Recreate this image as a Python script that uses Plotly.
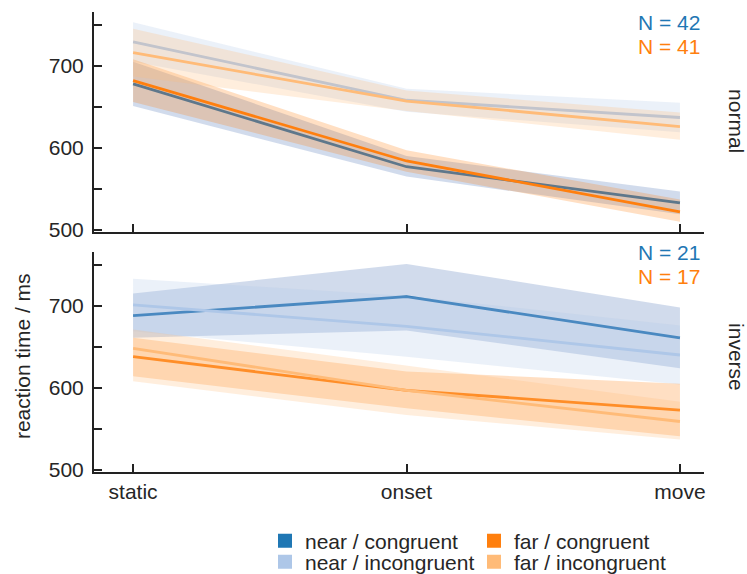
import plotly.graph_objects as go

conditions = ["static", "onset", "move"]
series_names = ["near / congruent", "near / incongruent", "far / congruent", "far / incongruent"]

# normal group
normal_mean = {
    "near / congruent": [678, 577, 533],
    "near / incongruent": [729, 658, 637],
    "far / congruent": [682, 584, 522],
    "far / incongruent": [716, 657, 626],
}
normal_lo = {
    "near / congruent": [651, 565, 519],
    "near / incongruent": [705, 644, 619],
    "far / congruent": [656, 571, 510],
    "far / incongruent": [687, 645, 610],
}
normal_hi = {
    "near / congruent": [705, 590, 547],
    "near / incongruent": [753, 672, 655],
    "far / congruent": [708, 597, 537],
    "far / incongruent": [745, 670, 643],
}
# inverse group
inverse_mean = {
    "near / congruent": [688, 711, 661],
    "near / incongruent": [701, 675, 640],
    "far / congruent": [638, 597, 573],
    "far / incongruent": [648, 597, 559],
}
inverse_lo = {
    "near / congruent": [661, 670, 624],
    "near / incongruent": [669, 638, 604],
    "far / congruent": [614, 575, 541],
    "far / incongruent": [608, 567, 537],
}
inverse_hi = {
    "near / congruent": [715, 751, 698],
    "near / incongruent": [733, 712, 676],
    "far / congruent": [661, 620, 605],
    "far / incongruent": [671, 627, 583],
}
n_labels_normal = ["N = 42", "N = 41"]
n_labels_inverse = ["N = 21", "N = 17"]
y_ticks = [500, 550, 600, 650, 700, 750]
y_ticktext = ["500", "", "600", "", "700", ""]

line_colors = {
    "near / congruent": "#1f77b4",
    "near / incongruent": "#aec7e8",
    "far / congruent": "#ff7f0e",
    "far / incongruent": "#ffbb78",
}
band_colors = {
    "near / congruent": "rgba(70,110,180,0.25)",
    "near / incongruent": "rgba(174,199,232,0.25)",
    "far / congruent": "rgba(255,127,14,0.25)",
    "far / incongruent": "rgba(255,187,120,0.25)",
}

FONT = "Liberation Sans, Arial, sans-serif"
TXT = "#262626"
xs = list(range(len(conditions)))

fig = go.Figure()

def add_panel(mean, lo, hi, xa, ya):
    for name in series_names:
        fig.add_trace(go.Scatter(
            x=xs, y=mean[name], mode="lines", xaxis=xa, yaxis=ya,
            line=dict(color=line_colors[name], width=2.8), showlegend=False,
            hoverinfo="skip"))
        fig.add_trace(go.Scatter(
            x=xs + xs[::-1], y=hi[name] + lo[name][::-1], mode="lines",
            fill="toself", fillcolor=band_colors[name], line=dict(width=0),
            xaxis=xa, yaxis=ya, showlegend=False, hoverinfo="skip"))

add_panel(normal_mean, normal_lo, normal_hi, "x", "y")
add_panel(inverse_mean, inverse_lo, inverse_hi, "x2", "y2")

# legend entries: one legend per cell of the 2x2 legend grid
legend_of = {
    "near / congruent": "legend", "far / congruent": "legend2",
    "near / incongruent": "legend3", "far / incongruent": "legend4",
}
for name in series_names:
    fig.add_trace(go.Scatter(
        x=[None], y=[None], mode="markers", name=name,
        marker=dict(symbol="square", size=14, color=line_colors[name]),
        legend=legend_of[name], xaxis="x2", yaxis="y2"))

axis_common = dict(
    showline=True, linecolor="#222222", linewidth=2,
    ticks="inside", ticklen=8, tickwidth=2, tickcolor="#222222",
    showgrid=False, zeroline=False, automargin=False,
    tickfont=dict(family=FONT, size=21, color=TXT),
)
xr = [-0.143, 2.088]
yr = [497.5, 765.5]

def leg(xp, yc):
    return dict(x=xp, y=yc, xref="paper", yref="container",
                xanchor="left", yanchor="middle", orientation="v",
                font=dict(family=FONT, size=21, color=TXT),
                bgcolor="rgba(0,0,0,0)", itemwidth=30, borderwidth=0)

row1 = (574 - 541) / 574
row2 = (574 - 562) / 574
col1 = (265 - 94) / 610
col2 = (474 - 94) / 610

fig.update_layout(
    width=747, height=574,
    margin=dict(l=94, r=43, t=12, b=102, autoexpand=False),
    paper_bgcolor="white", plot_bgcolor="white",
    font=dict(family=FONT, size=21, color=TXT),
    xaxis=dict(axis_common, domain=[0, 1], range=xr, anchor="y",
               tickvals=xs, ticktext=["", "", ""]),
    yaxis=dict(axis_common, domain=[0.5217, 1], range=yr, anchor="x",
               tickvals=y_ticks, ticktext=y_ticktext, ticklabelstandoff=4),
    xaxis2=dict(axis_common, domain=[0, 1], range=xr, anchor="y2",
                tickvals=xs, ticktext=conditions),
    yaxis2=dict(axis_common, domain=[0, 0.4783], range=yr, anchor="x2",
                tickvals=y_ticks, ticktext=y_ticktext, ticklabelstandoff=4),
    legend=leg(col1, row1),
    legend2=leg(col2, row1),
    legend3=leg(col1, row2),
    legend4=leg(col2, row2),
)

ann = []
for txt, yp, col in [(n_labels_normal[0], 0.978, "#1f77b4"),
                     (n_labels_normal[1], 0.926, "#ff7f0e"),
                     (n_labels_inverse[0], 0.478, "#1f77b4"),
                     (n_labels_inverse[1], 0.426, "#ff7f0e")]:
    ann.append(dict(text=txt, x=0.9967, y=yp, xref="paper", yref="paper",
                    xanchor="right", yanchor="middle", showarrow=False,
                    font=dict(family=FONT, size=21, color=col)))
ann.append(dict(text="normal", x=1.054, y=0.763, xref="paper", yref="paper",
                textangle=90, showarrow=False, xanchor="center", yanchor="middle",
                font=dict(family=FONT, size=21, color=TXT)))
ann.append(dict(text="inverse", x=1.054, y=0.25, xref="paper", yref="paper",
                textangle=90, showarrow=False, xanchor="center", yanchor="middle",
                font=dict(family=FONT, size=21, color=TXT)))
ann.append(dict(text="reaction time / ms", x=-0.118, y=0.252, xref="paper", yref="paper",
                textangle=-90, showarrow=False, xanchor="center", yanchor="middle",
                font=dict(family=FONT, size=21, color=TXT)))
fig.update_layout(annotations=ann)

fig.write_html("out.html", config={"displayModeBar": False},
               post_script="document.body.style.margin='0px';document.body.style.padding='0px';")
